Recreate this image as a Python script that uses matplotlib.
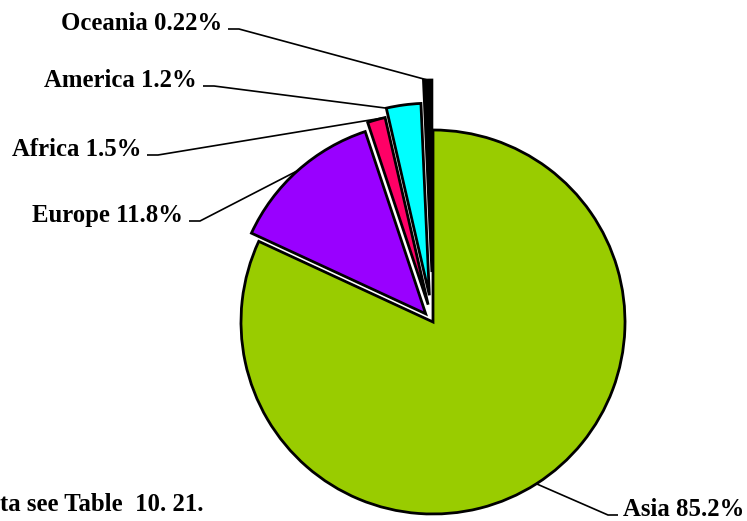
"""Pie of world share by continent, with exploded minor slices and leader labels."""

from __future__ import annotations

import numpy as np
import matplotlib

matplotlib.use("Agg")
import matplotlib.pyplot as plt

W, H = 747, 521

# slice shares as drawn (wedge angles), and the printed labels
CONTINENTS = ["Asia", "Europe", "Africa", "America", "Oceania"]
SHARES = [81.9, 13.0, 1.5, 2.9, 0.7]
LABELS = ["Asia 85.2%", "Europe 11.8%", "Africa 1.5%", "America 1.2%", "Oceania 0.22%"]
FOOTNOTE = "ta see Table  10. 21."

COLORS = ["#99CC00", "#9900FF", "#FF0066", "#00FFFF", "#000000"]
EXPLODE_PX = [0, 11, 18, 27, 50]
# where on the outer arc each leader line lands (0 = clockwise start, 1 = end)
LEADER_FRAC = [0.5, 0.5, 0.0, 1.0, 0.5]
# label anchor in pixels (x, baseline y), and which side the text sits on
LABEL_POS = [(623, 516), (183, 222), (141, 156), (197, 87), (222, 30)]
LABEL_SIDE = ["left", "right", "right", "right", "right"]

CENTER = (433, H - 322)
RADIUS = 192
FONT = dict(family="Liberation Serif", fontweight="bold", fontsize=17.8)


def main() -> None:
    fig = plt.figure(figsize=(W / 100, H / 100), dpi=100)
    ax = fig.add_axes([0, 0, 1, 1])
    wedges, _ = ax.pie(
        SHARES,
        colors=COLORS,
        explode=EXPLODE_PX,
        center=CENTER,
        radius=RADIUS,
        startangle=90,
        counterclock=False,
        frame=True,
        wedgeprops=dict(edgecolor="black", linewidth=2.0),
    )
    ax.set_xlim(0, W)
    ax.set_ylim(0, H)
    ax.axis("off")

    for wedge, frac, label, (lx, ly), side in zip(wedges, LEADER_FRAC, LABELS, LABEL_POS, LABEL_SIDE):
        theta = np.deg2rad(wedge.theta1 + frac * (wedge.theta2 - wedge.theta1))
        cx, cy = wedge.center
        ex, ey = cx + wedge.r * np.cos(theta), cy + wedge.r * np.sin(theta)
        y = H - ly
        if side == "right":
            ax.text(lx, y, label, ha="right", va="baseline", **FONT)
            xs = [lx + 6, lx + 17, ex]
        else:
            ax.text(lx, y, label, ha="left", va="baseline", **FONT)
            xs = [lx - 5, lx - 15, ex]
        ax.plot(xs, [y + 1, y + 1, ey], color="black", lw=1.2, solid_capstyle="butt")

    ax.text(0, H - 511, FOOTNOTE, ha="left", va="baseline", **FONT)
    fig.savefig("out.png", dpi=100)
    plt.close(fig)


if __name__ == "__main__":
    main()
